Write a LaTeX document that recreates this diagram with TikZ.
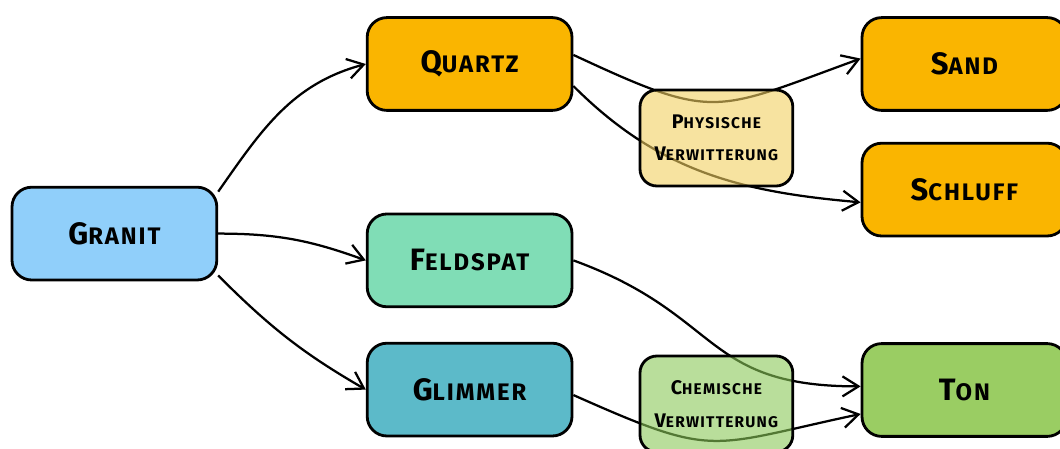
\documentclass[tikz,border=0pt]{standalone}
\usepackage{fontspec}
\setmainfont{Fira Sans}[LetterSpace=8]
\usetikzlibrary{arrows.meta}

\definecolor{granitblue}{HTML}{90CFFA}
\definecolor{quartzorange}{HTML}{FAB500}
\definecolor{feldspatmint}{HTML}{80DDB6}
\definecolor{glimmerteal}{HTML}{5CBAC9}
\definecolor{tongreen}{HTML}{9ACD63}
\definecolor{physyellow}{HTML}{F2D061}
\definecolor{chemgreen}{HTML}{8AC858}

% fake small caps: first letter big, rest small
\newcommand{\bigsc}[2]{{\fontsize{22}{25}\selectfont #1}{\fontsize{17}{20}\selectfont #2}}
\newcommand{\smallsc}[2]{{\fontsize{14}{23}\selectfont #1}{\fontsize{11}{23}\selectfont #2}}

\begin{document}
\begin{tikzpicture}[
    box/.style={draw, line width=2pt, rounded corners=14pt, minimum width=5.12cm, minimum height=2.32cm, font=\bfseries},
    weather/.style={draw, line width=2pt, rounded corners=12pt, minimum width=3.82cm, minimum height=2.4cm,
        fill opacity=0.6, text opacity=1, align=center, font=\bfseries\fontsize{14}{23}\selectfont},
    flow/.style={line width=1.6pt, -{Straight Barb[length=4mm,width=5mm,line width=1.6pt]}}
]
    \useasboundingbox (0, 0) rectangle (26.5, 11.2);

    \node[box, fill=granitblue] (granit) at (2.86, 5.36) {\bigsc{G}{RANIT}};

    \node[box, fill=quartzorange] (quartz) at (11.74, 9.6) {\bigsc{Q}{UARTZ}};
    \node[box, fill=feldspatmint] (feldspat) at (11.74, 4.69) {\bigsc{F}{ELDSPAT}};
    \node[box, fill=glimmerteal] (glimmer) at (11.74, 1.46) {\bigsc{G}{LIMMER}};

    \node[box, fill=quartzorange] (sand) at (24.11, 9.6) {\bigsc{S}{AND}};
    \node[box, fill=quartzorange] (schluff) at (24.11, 6.46) {\bigsc{S}{CHLUFF}};
    \node[box, fill=tongreen] (ton) at (24.11, 1.45) {\bigsc{T}{ON}};

    \draw[flow] (granit.22) to[out=55, in=195] (quartz.west);
    \draw[flow] (granit.east) to[out=0, in=160] (feldspat.west);
    \draw[flow] (granit.-22) to[out=-45, in=150] (glimmer.west);

    \draw[flow] (quartz.5) to[out=-25, in=200, looseness=1.4] (sand.177);
    \draw[flow] (quartz.-12) to[out=-45, in=175] (schluff.187);
    \draw[flow] (feldspat.east) to[out=-20, in=180, looseness=1.3] (ton.178);
    \draw[flow] (glimmer.-3) to[out=-24, in=192, looseness=1.4] (ton.193);

    % process boxes lie over the arrows
    \node[weather, fill=physyellow] (physisch) at (17.91, 7.75) {\smallsc{P}{HYSISCHE}\\\smallsc{V}{ERWITTERUNG}};
    \node[weather, fill=chemgreen] (chemisch) at (17.91, 1.1) {\smallsc{C}{HEMISCHE}\\\smallsc{V}{ERWITTERUNG}};
\end{tikzpicture}
\end{document}
